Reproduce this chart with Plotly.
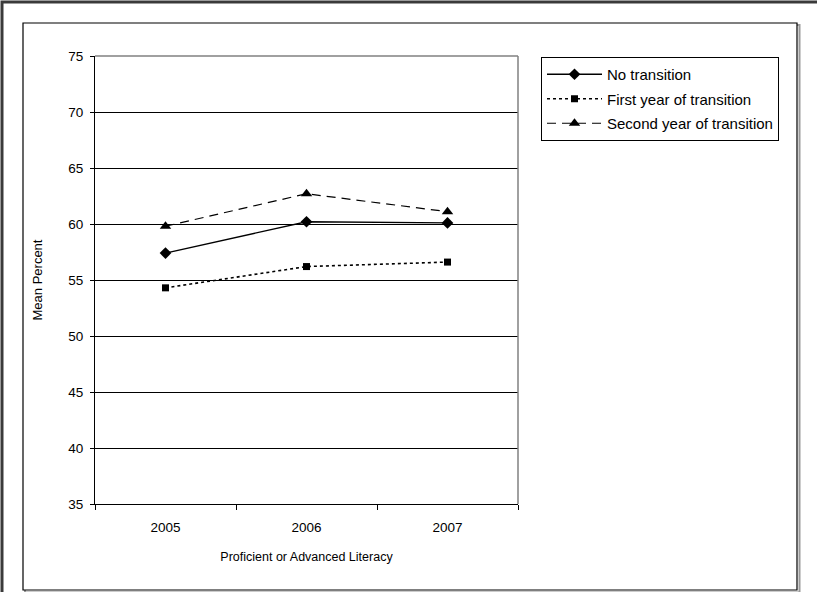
import plotly.graph_objects as go

years = ["2005", "2006", "2007"]
no_transition = [57.4, 60.2, 60.1]
first_year = [54.3, 56.2, 56.6]
second_year = [59.8, 62.7, 61.1]
series_names = ["No transition", "First year of transition", "Second year of transition"]
y_ticks = [35, 40, 45, 50, 55, 60, 65, 70, 75]

W, H = 817, 592
L, R, T, B = 95, 518, 56, 504  # plot area in pixels

def px(x):
    return (x - L) / (R - L)

def py(y):
    return (B - y) / (B - T)

FONT = "Liberation Sans, Arial, sans-serif"

fig = go.Figure()
fig.add_trace(go.Scatter(x=years, y=no_transition, name=series_names[0], mode="lines+markers",
                         line=dict(color="black", width=1.3, dash="solid"),
                         marker=dict(symbol="diamond", size=9, color="black"), legendgroup="a"))
fig.add_trace(go.Scatter(x=years, y=first_year, name=series_names[1], mode="lines+markers",
                         line=dict(color="black", width=1.6, dash="dot"),
                         marker=dict(symbol="square", size=7, color="black"), legendgroup="b"))
fig.add_trace(go.Scatter(x=years, y=second_year, name=series_names[2], mode="lines+markers",
                         line=dict(color="black", width=1.2, dash="9px,6px"),
                         marker=dict(symbol="triangle-up", size=10, color="black"), legendgroup="c"))

shapes = []
# outer frame (dark, partially visible)
shapes.append(dict(type="rect", xref="paper", yref="paper", x0=px(2), x1=px(W + 40), y0=py(H + 40), y1=py(2),
                   line=dict(color="#3a3a3a", width=3), layer="below"))
# inner chart border shadow
shapes.append(dict(type="rect", xref="paper", yref="paper", x0=px(25), x1=px(799.5), y0=py(592.5), y1=py(25),
                   line=dict(color="#9a9a9a", width=2), layer="below"))
# inner chart border
shapes.append(dict(type="rect", xref="paper", yref="paper", x0=px(23), x1=px(797), y0=py(590), y1=py(23),
                   line=dict(color="black", width=1.2), fillcolor="white", layer="below"))
# plot-area top and right border (gray)
shapes.append(dict(type="line", xref="paper", yref="paper", x0=0, x1=1, y0=1, y1=1,
                   line=dict(color="#808080", width=1.5)))
shapes.append(dict(type="line", xref="paper", yref="paper", x0=1, x1=1, y0=0, y1=1,
                   line=dict(color="#808080", width=1.5)))

fig.update_layout(
    width=W, height=H,
    margin=dict(l=L, r=W - R, t=T, b=H - B, pad=0),
    paper_bgcolor="white", plot_bgcolor="white",
    font=dict(family=FONT, size=13, color="black"),
    showlegend=True,
    legend=dict(x=px(541), y=py(57), xanchor="left", yanchor="top",
                bordercolor="black", borderwidth=1, bgcolor="white",
                font=dict(family=FONT, size=15, color="black"),
                tracegroupgap=2, itemwidth=55),
    shapes=shapes,
    xaxis=dict(type="category", range=[-0.5, 2.5], showgrid=False, showline=True,
               linecolor="black", linewidth=1, ticks="outside", tickson="boundaries",
               ticklen=5, tickcolor="black", tickfont=dict(family=FONT, size=13.5),
               ticklabelstandoff=11,
               title=dict(text="Proficient or Advanced Literacy", standoff=18,
                          font=dict(family=FONT, size=12.5)),
               zeroline=False, fixedrange=True),
    yaxis=dict(range=[35, 75], tickvals=y_ticks, showgrid=True, gridcolor="black", gridwidth=1,
               showline=True, linecolor="black", linewidth=1, ticks="outside", ticklen=4,
               tickcolor="black", tickfont=dict(family=FONT, size=13.5), ticklabelstandoff=4,
               title=dict(text="Mean Percent", standoff=22, font=dict(family=FONT, size=13)),
               zeroline=False, fixedrange=True),
)

fig.write_html("out.html", post_script="document.body.style.margin='0px';",
               config={"displayModeBar": False})
